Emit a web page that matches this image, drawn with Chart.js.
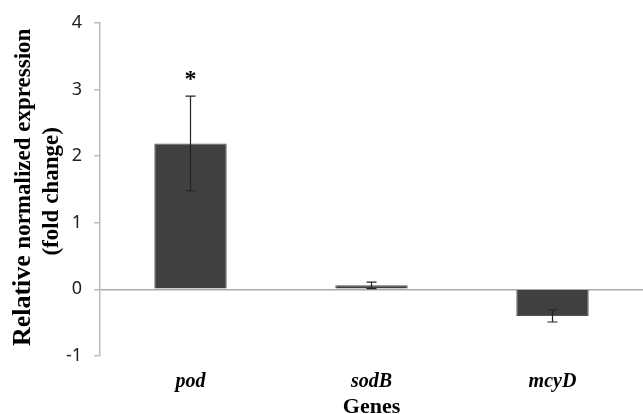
<!DOCTYPE html>
<html lang="en">
<head>
    <meta charset="UTF-8">
    <title>Relative normalized expression</title>
    <script src="https://cdn.jsdelivr.net/npm/chart.js"></script>
    <style>
        html, body { margin: 0; padding: 0; background: #fff; }
    </style>
</head>
<body>
    <canvas id="grafico" width="643" height="414"></canvas>

<script>
    // dados
    const genes = ['pod', 'sodB', 'mcyD'];
    const valores = [2.19, 0.06, -0.40];
    const erros = [0.71, 0.05, 0.09];
    const marcas = ['*', '', ''];
    const yTicks = [-1, 0, 1, 2, 3, 4];

    // barras de erro e asterisco
    const errorBars = {
        id: 'errorBars',
        afterDatasetsDraw(chart) {
            const ctx = chart.ctx;
            const meta = chart.getDatasetMeta(0);
            const y = chart.scales.y;
            ctx.save();
            ctx.strokeStyle = '#222';
            ctx.lineWidth = 1.2;
            meta.data.forEach(function (bar, i) {
                const x = bar.x;
                const top = y.getPixelForValue(valores[i] + erros[i]);
                const bot = y.getPixelForValue(valores[i] - erros[i]);
                ctx.beginPath();
                ctx.moveTo(x, top); ctx.lineTo(x, bot);
                ctx.moveTo(x - 5, top); ctx.lineTo(x + 5, top);
                ctx.moveTo(x - 5, bot); ctx.lineTo(x + 5, bot);
                ctx.stroke();
                if (marcas[i]) {
                    ctx.fillStyle = '#000';
                    ctx.font = 'bold 24px "Liberation Serif"';
                    ctx.textAlign = 'center';
                    ctx.textBaseline = 'middle';
                    ctx.fillText(marcas[i], x, top - 16);
                }
            });
            ctx.restore();
        }
    };

    // titulo do eixo Y com "Relative" maior, como no original
    const tituloY = {
        id: 'tituloY',
        afterDraw(chart) {
            const ctx = chart.ctx;
            const a = chart.chartArea;
            const cy = (a.top + a.bottom) / 2 - 2;
            const f1 = 'bold 26px "Liberation Serif"';
            const f2 = 'bold 23px "Liberation Serif"';
            const p1 = 'Relative ';
            const p2 = 'normalized expression';
            const p3 = '(fold change)';
            ctx.save();
            ctx.fillStyle = '#000';
            ctx.textBaseline = 'alphabetic';
            ctx.textAlign = 'left';
            ctx.font = f1; const w1 = ctx.measureText(p1).width;
            ctx.font = f2; const w2 = ctx.measureText(p2).width;
            const w3 = ctx.measureText(p3).width;
            // linha 1
            ctx.save();
            ctx.translate(30, cy);
            ctx.rotate(-Math.PI / 2);
            const x0 = -(w1 + w2) / 2;
            ctx.font = f1; ctx.fillText(p1, x0, 0);
            ctx.font = f2; ctx.fillText(p2, x0 + w1, 0);
            ctx.restore();
            // linha 2
            ctx.save();
            ctx.translate(58, cy + 4);
            ctx.rotate(-Math.PI / 2);
            ctx.font = f2; ctx.fillText(p3, -w3 / 2, 0);
            ctx.restore();
            ctx.restore();
        }
    };

    const config = {
        type: 'bar',
        data: {
            labels: genes,
            datasets: [{
                data: valores,
                backgroundColor: '#404040',
                borderColor: '#555',
                borderWidth: 1,
                categoryPercentage: 1,
                barPercentage: 0.4
            }]
        },
        options: {
            responsive: false,
            animation: false,
            layout: { padding: { top: 21, right: -4, left: 0, bottom: 0 } },
            plugins: {
                legend: { display: false },
                tooltip: { enabled: false }
            },
            scales: {
                x: {
                    grid: { display: false, drawTicks: false },
                    border: { display: false },
                    ticks: {
                        color: '#000',
                        padding: 14,
                        font: { family: 'Liberation Serif', size: 20, style: 'italic', weight: 'bold' }
                    },
                    title: {
                        display: true,
                        text: 'Genes',
                        color: '#000',
                        font: { family: 'Liberation Serif', size: 22, weight: 'bold', lineHeight: 1 },
                        padding: { top: 0, bottom: -4 }
                    },
                    afterFit(scale) { scale.height = 58; }
                },
                y: {
                    min: -1,
                    max: 4,
                    afterBuildTicks(scale) {
                        scale.ticks = yTicks.map(v => ({ value: v }));
                    },
                    grid: {
                        color: ctx => (ctx.tick && ctx.tick.value === 0) ? '#aaa' : 'rgba(0,0,0,0)',
                        tickColor: '#bbb',
                        tickLength: 6,
                        lineWidth: 1.5
                    },
                    border: { color: '#bbb', width: 1.5 },
                    ticks: {
                        color: '#222',
                        padding: 12,
                        font: { family: 'Noto Sans', size: 18 }
                    },
                    afterFit(scale) { scale.width = 100; }
                }
            }
        },
        plugins: [errorBars, tituloY]
    };

    let myChart = new Chart(document.getElementById('grafico'), config);
</script>
</body>
</html>
